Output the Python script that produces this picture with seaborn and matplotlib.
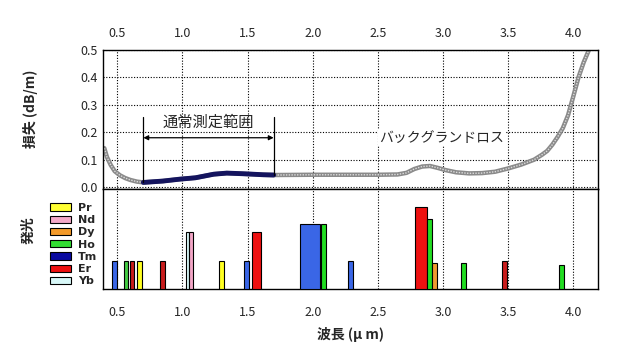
import numpy as np
import pandas as pd
import matplotlib
matplotlib.use("Agg")
import matplotlib.pyplot as plt
import seaborn as sns
from matplotlib.patches import Patch

# background loss curve (um, dB/m)
wl_bg = [0.40, 0.42, 0.45, 0.48, 0.52, 0.56, 0.60, 0.65, 0.70, 0.85, 0.98, 1.10,
         1.24, 1.34, 1.45, 1.54, 1.62, 1.70, 2.00, 2.50, 2.65, 2.72, 2.78, 2.84,
         2.90, 2.96, 3.02, 3.10, 3.20, 3.30, 3.40, 3.50, 3.60, 3.70, 3.76, 3.80,
         3.84, 3.88, 3.92, 3.96, 4.00, 4.04, 4.08, 4.12]
loss_bg = [0.142, 0.110, 0.080, 0.058, 0.043, 0.033, 0.026, 0.020, 0.017, 0.022,
           0.029, 0.034, 0.047, 0.051, 0.049, 0.047, 0.045, 0.044, 0.045, 0.045,
           0.046, 0.052, 0.066, 0.075, 0.077, 0.070, 0.062, 0.054, 0.050, 0.051,
           0.056, 0.068, 0.082, 0.100, 0.118, 0.132, 0.155, 0.183, 0.215, 0.262,
           0.330, 0.400, 0.455, 0.500]
# usual measurement range
wl_rng = [0.70, 0.85, 0.98, 1.10, 1.24, 1.34, 1.45, 1.54, 1.62, 1.70]
loss_rng = [0.017, 0.022, 0.029, 0.034, 0.047, 0.051, 0.049, 0.047, 0.045, 0.044]

# emission lines
em_elem = ["Tm", "Ho", "Er", "Pr", "Er", "Yb", "Nd", "Pr", "Tm", "Er", "Tm", "Ho",
           "Tm", "Er", "Ho", "Dy", "Ho", "Er", "Ho"]
em_wl = [0.48, 0.57, 0.615, 0.67, 0.85, 1.037, 1.065, 1.30, 1.49, 1.57, 1.98, 2.08,
         2.29, 2.83, 2.895, 2.935, 3.16, 3.47, 3.91]
em_width = [0.035, 0.03, 0.033, 0.033, 0.038, 0.027, 0.027, 0.038, 0.038, 0.07,
            0.15, 0.04, 0.033, 0.09, 0.038, 0.038, 0.038, 0.038, 0.038]
em_height = [28, 28, 28, 28, 28, 57, 57, 28, 28, 57, 65, 65, 28, 82, 70, 26, 26, 28, 24]
em_color = ["#3a66e6", "#44cc44", "#c81c1c", "#ffff22", "#c81c1c", "#d8f8f8",
            "#f2a6c6", "#ffff22", "#3a66e6", "#ee1111", "#3a66e6", "#22dd22",
            "#3a66e6", "#ee1111", "#22dd22", "#f09a30", "#22dd22", "#c81c1c",
            "#22dd22"]

leg_names = ["Pr", "Nd", "Dy", "Ho", "Tm", "Er", "Yb"]
leg_colors = ["#ffff33", "#f4a8c8", "#f39a2a", "#33dd33", "#0a0aa0", "#ee1111", "#d8f8f8"]

xticks = [0.5, 1.0, 1.5, 2.0, 2.5, 3.0, 3.5, 4.0]

sns.set_theme(style="white")
plt.rcParams["font.family"] = ["Noto Sans CJK JP", "DejaVu Sans"]

fig = plt.figure(figsize=(6.25, 3.59), dpi=100)
ax1 = fig.add_axes([0.1648, 0.4735, 0.792, 0.3872])
ax2 = fig.add_axes([0.1648, 0.195, 0.792, 0.2786])

xlim = (0.39, 4.19)

# ---- loss panel
df_bg = pd.DataFrame({"wl": wl_bg, "loss": loss_bg})
df_rng = pd.DataFrame({"wl": wl_rng, "loss": loss_rng})
sns.lineplot(data=df_bg, x="wl", y="loss", ax=ax1, color="#8a8a8a", lw=3.2, sort=False)
sns.lineplot(data=df_bg, x="wl", y="loss", ax=ax1, color="#dcdcdc", lw=1.0,
             ls=(0, (1, 1)), sort=False)
sns.lineplot(data=df_rng, x="wl", y="loss", ax=ax1, color="#14145e", lw=3.5, sort=False)

ax1.set_xlim(*xlim)
ax1.set_ylim(-0.007, 0.5)
ax1.set_yticks([0.0, 0.1, 0.2, 0.3, 0.4, 0.5])
ax1.set_yticklabels(["0.0", "0.1", "0.2", "0.3", "0.4", "0.5"])
ax1.set_xticks(xticks)
ax1.xaxis.tick_top()
ax1.tick_params(axis="x", length=0, pad=7.5, labelsize=9)
ax1.tick_params(axis="y", length=0, pad=4, labelsize=9)
ax1.grid(True, color="black", ls=(0, (1, 1.5)), lw=0.8)
ax1.set_xlabel("")
ax1.set_ylabel("")

ax1.plot([0.70, 0.70], [0.017, 0.255], color="black", lw=0.9)
ax1.plot([1.70, 1.70], [0.044, 0.255], color="black", lw=0.9)
ax1.annotate("", xy=(0.70, 0.18), xytext=(1.70, 0.18),
             arrowprops=dict(arrowstyle="<|-|>", color="black", lw=0.9,
                             mutation_scale=7, shrinkA=0, shrinkB=0))
ax1.text(1.20, 0.237, "通常測定範囲", ha="center", va="center", fontsize=11)
ax1.text(2.99, 0.18, "バックグランドロス", ha="center", va="center", fontsize=10,
         bbox=dict(facecolor="white", edgecolor="none", pad=1))

# ---- emission panel
ax2.bar(em_wl, em_height, width=em_width, color=em_color, edgecolor="black",
        linewidth=0.8, zorder=3)
ax2.set_xlim(*xlim)
ax2.set_ylim(0, 100)
ax2.set_yticks([])
ax2.set_xticks(xticks)
ax2.tick_params(axis="x", length=0, pad=12, labelsize=9)
ax2.grid(True, axis="x", color="black", ls=(0, (1, 1.5)), lw=0.8)
ax2.set_xlabel("波長 (μ m)", fontsize=10, fontweight="bold", labelpad=6)

for ax in (ax1, ax2):
    for s in ax.spines.values():
        s.set_color("black")
        s.set_linewidth(1.0)

fig.text(0.048, 1 - 109 / 359, "損失 (dB/m)", rotation=90, ha="center", va="center",
         fontsize=10, fontweight="bold")
fig.text(0.046, 1 - 230 / 359, "発光", rotation=90, ha="center", va="center",
         fontsize=10, fontweight="bold")

handles = [Patch(facecolor=c, edgecolor="black", linewidth=0.8) for c in leg_colors]
fig.legend(handles, leg_names, loc="upper left", bbox_to_anchor=(0.08, 1 - 203 / 359),
           frameon=False, prop={"family": "DejaVu Sans", "weight": "bold", "size": 8},
           handlelength=1.9, handleheight=0.65, handletextpad=0.6, labelspacing=0.2,
           borderpad=0, borderaxespad=0)

fig.savefig("out.png", dpi=100, facecolor="white")
